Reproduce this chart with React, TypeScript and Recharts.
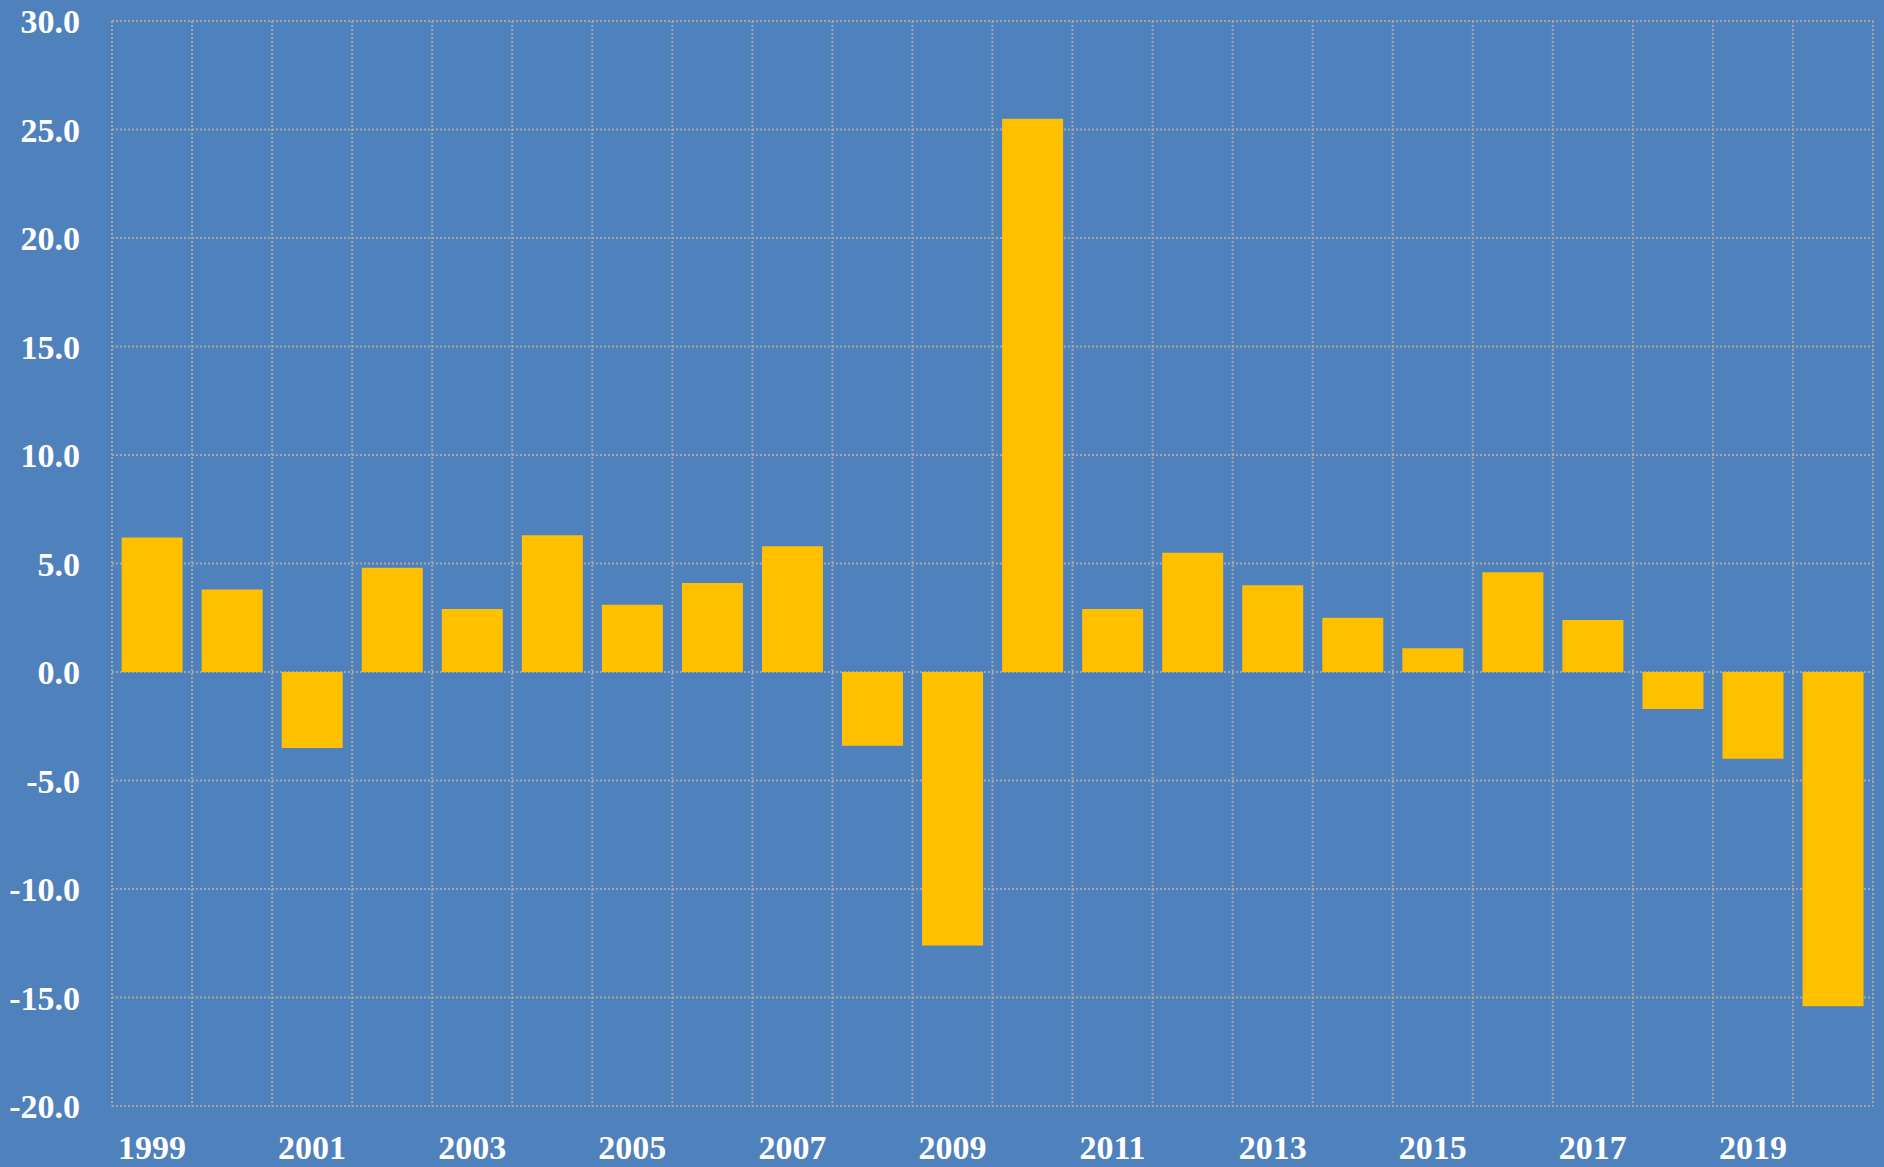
import { BarChart, Bar, XAxis, YAxis, CartesianGrid } from 'recharts';

const years = [
  '1999', '2000', '2001', '2002', '2003', '2004', '2005', '2006', '2007', '2008', '2009',
  '2010', '2011', '2012', '2013', '2014', '2015', '2016', '2017', '2018', '2019', '2020',
];

const growth = [
  6.2, 3.8, -3.5, 4.8, 2.9, 6.3, 3.1, 4.1, 5.8, -3.4, -12.6,
  25.5, 2.9, 5.5, 4.0, 2.5, 1.1, 4.6, 2.4, -1.7, -4.0, -15.4,
];

const yTicks = [-20, -15, -10, -5, 0, 5, 10, 15, 20, 25, 30];

const data = years.map((year, i) => ({ year, value: growth[i] }));

const BG = '#4F81BD';
const BAR = '#FFC000';
const GRID = '#A6A6A6';

const tickStyle = {
  fill: '#FFFFFF',
  fontFamily: '"Liberation Serif", "Times New Roman", serif',
  fontWeight: 700,
  fontSize: 34,
};

export default function App() {
  return (
    <div style={{ position: 'absolute', left: 0, top: 0, width: 1884, height: 1167, backgroundColor: BG }}>
      <BarChart
        width={1884}
        height={1167}
        data={data}
        margin={{ top: 21, right: 11, bottom: 0, left: 0 }}
        barCategoryGap="12%"
      >
        <CartesianGrid
          stroke={GRID}
          strokeWidth={2}
          strokeDasharray="2 2"
          verticalCoordinatesGenerator={({ offset }: any) =>
            Array.from({ length: years.length + 1 }, (_, i) => offset.left + (i * offset.width) / years.length)
          }
        />
        <XAxis
          dataKey="year"
          interval={1}
          axisLine={false}
          tickLine={false}
          tickSize={0}
          tickMargin={29}
          height={61}
          tick={tickStyle}
        />
        <YAxis
          domain={[-20, 30]}
          ticks={yTicks}
          interval={0}
          axisLine={false}
          tickLine={false}
          tickSize={0}
          tickMargin={32}
          width={112}
          tick={tickStyle}
          tickFormatter={(v: number) => v.toFixed(1)}
        />
        <Bar dataKey="value" fill={BAR} isAnimationActive={false} />
      </BarChart>
    </div>
  );
}
